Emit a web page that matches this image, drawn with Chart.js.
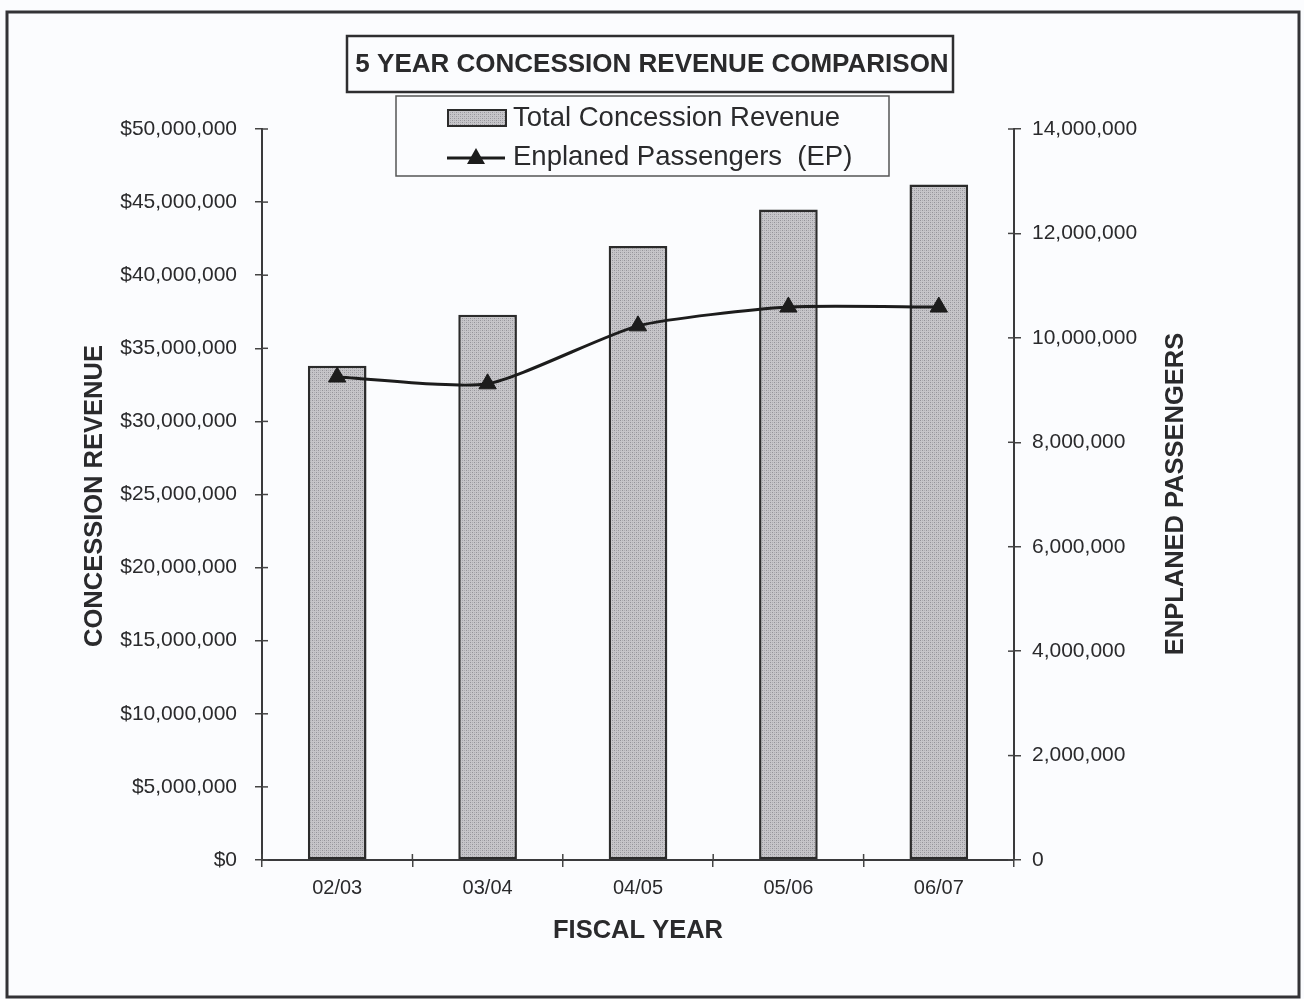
<!DOCTYPE html>
<html><head><meta charset="utf-8">
<script src="https://cdn.jsdelivr.net/npm/chart.js@4.4.1/dist/chart.umd.min.js"></script>
<style>html,body{margin:0;padding:0;background:#fbfcfe;} #wrap{width:1304px;height:999px;position:relative}</style>
</head><body><div id="wrap"><canvas id="c" width="1304" height="999"></canvas></div>
<script>
const categories = ['02/03', '03/04', '04/05', '05/06', '06/07'];
const revenue = [33800000, 37300000, 42000000, 44500000, 46200000];
const passengers = [9250000, 9120000, 10230000, 10590000, 10590000];
const chartTitle = '5 YEAR CONCESSION REVENUE COMPARISON';
const seriesNames = ['Total Concession Revenue', 'Enplaned Passengers  (EP)'];
const leftAxisTitle = 'CONCESSION REVENUE';
const rightAxisTitle = 'ENPLANED PASSENGERS';
const xAxisTitle = 'FISCAL YEAR';

const FONT = '"Liberation Sans", Arial, Helvetica, sans-serif';
const INK = '#2a2a2c';

function makePattern() {
  const p = document.createElement('canvas');
  p.width = 4; p.height = 4;
  const g = p.getContext('2d');
  g.fillStyle = '#c6c5c9'; g.fillRect(0, 0, 4, 4);
  g.fillStyle = '#949399';
  g.fillRect(0, 0, 1, 1); g.fillRect(2, 2, 1, 1);
  g.fillStyle = '#adacb1';
  g.fillRect(2, 0, 1, 1); g.fillRect(0, 2, 1, 1);
  return document.getElementById('c').getContext('2d').createPattern(p, 'repeat');
}
const barFill = makePattern();

const decor = {
  id: 'decor',
  afterDraw(chart) {
    const ctx = chart.ctx;
    const ca = chart.chartArea;
    ctx.save();
    // outer frame
    ctx.strokeStyle = '#333336'; ctx.lineWidth = 3;
    ctx.strokeRect(7, 12, 1292, 985);
    // inner tick marks (cross ticks)
    ctx.lineWidth = 1.5; ctx.strokeStyle = '#444';
    const y = chart.scales.y, y1 = chart.scales.y1;
    y.ticks.forEach((t, i) => { const py = y.getPixelForTick(i); ctx.beginPath(); ctx.moveTo(ca.left, py); ctx.lineTo(ca.left + 6, py); ctx.stroke(); });
    y1.ticks.forEach((t, i) => { const py = y1.getPixelForTick(i); ctx.beginPath(); ctx.moveTo(ca.right, py); ctx.lineTo(ca.right - 6, py); ctx.stroke(); });
    const n = categories.length;
    for (let i = 0; i <= n; i++) { const px = ca.left + i * (ca.right - ca.left) / n; ctx.beginPath(); ctx.moveTo(px, ca.bottom); ctx.lineTo(px, ca.bottom - 6); ctx.stroke(); }
    // title box
    ctx.lineWidth = 2.5; ctx.strokeStyle = '#2e2e30';
    ctx.strokeRect(347, 36, 606, 56);
    ctx.fillStyle = INK; ctx.textAlign = 'center'; ctx.textBaseline = 'middle';
    ctx.font = 'bold 26px ' + FONT;
    ctx.fillText(chartTitle, 652, 65);
    // legend box
    ctx.lineWidth = 1.5; ctx.strokeStyle = '#555';
    ctx.strokeRect(396, 96, 493, 80);
    ctx.fillStyle = barFill; ctx.fillRect(448, 110, 58, 16);
    ctx.lineWidth = 2; ctx.strokeStyle = '#2b2b2b'; ctx.strokeRect(448, 110, 58, 16);
    ctx.beginPath(); ctx.lineWidth = 3; ctx.strokeStyle = '#1c1c1c';
    ctx.moveTo(447, 158); ctx.lineTo(505, 158); ctx.stroke();
    ctx.beginPath(); ctx.fillStyle = '#1c1c1c';
    ctx.moveTo(476, 148); ctx.lineTo(485, 164); ctx.lineTo(467, 164); ctx.closePath(); ctx.fill();
    ctx.fillStyle = INK; ctx.textAlign = 'left'; ctx.font = '27.5px ' + FONT;
    ctx.fillText(seriesNames[0], 513, 118);
    ctx.fillText(seriesNames[1], 513, 157);
    // axis titles
    ctx.font = 'bold 25.5px ' + FONT; ctx.textAlign = 'center';
    ctx.fillText(xAxisTitle, 638, 931);
    ctx.save(); ctx.translate(95, 496); ctx.rotate(-Math.PI / 2); ctx.fillText(leftAxisTitle, 0, 0); ctx.restore();
    ctx.save(); ctx.translate(1176, 494); ctx.rotate(-Math.PI / 2); ctx.fillText(rightAxisTitle, 0, 0); ctx.restore();
    ctx.restore();
  }
};

new Chart(document.getElementById('c'), {
  data: {
    labels: categories,
    datasets: [
      { type: 'line', label: seriesNames[1], data: passengers, yAxisID: 'y1', order: 1,
        borderColor: '#1c1c1c', borderWidth: 3, pointStyle: 'triangle', pointRadius: 10,
        pointBackgroundColor: '#1c1c1c', pointBorderColor: '#1c1c1c', pointBorderWidth: 1,
        tension: 0.2, fill: false },
      { type: 'bar', label: seriesNames[0], data: revenue, yAxisID: 'y', order: 2,
        backgroundColor: barFill, borderColor: '#2b2b2b', borderWidth: 2.5, borderSkipped: false,
        categoryPercentage: 1, barPercentage: 0.39 }
    ]
  },
  options: {
    responsive: false, animation: false, devicePixelRatio: 1,
    layout: { padding: { top: 129, left: 0, right: 0, bottom: 0 } },
    plugins: { legend: { display: false }, title: { display: false }, tooltip: { enabled: false } },
    scales: {
      x: {
        type: 'category', offset: true,
        grid: { offset: true, drawOnChartArea: false, tickLength: 7, color: '#444', lineWidth: 1.5 },
        border: { color: '#3a3a3c', width: 2 },
        ticks: { font: { family: FONT, size: 20 }, color: INK, padding: 9 },
        afterFit(s) { s.height = 139; }
      },
      y: {
        position: 'left', min: 0, max: 50000000,
        grid: { drawOnChartArea: false, tickLength: 7, color: '#444', lineWidth: 1.5 },
        border: { color: '#3a3a3c', width: 2 },
        ticks: { stepSize: 5000000, font: { family: FONT, size: 21 }, color: INK, padding: 18,
          callback: v => '$' + Number(v).toLocaleString('en-US') },
        afterFit(s) { s.width = 262; }
      },
      y1: {
        position: 'right', min: 0, max: 14000000,
        grid: { drawOnChartArea: false, tickLength: 7, color: '#444', lineWidth: 1.5 },
        border: { color: '#3a3a3c', width: 2 },
        ticks: { stepSize: 2000000, font: { family: FONT, size: 21 }, color: INK, padding: 11,
          callback: v => Number(v).toLocaleString('en-US') },
        afterFit(s) { s.width = 290; }
      }
    }
  },
  plugins: [decor]
});
</script>
</body></html>
